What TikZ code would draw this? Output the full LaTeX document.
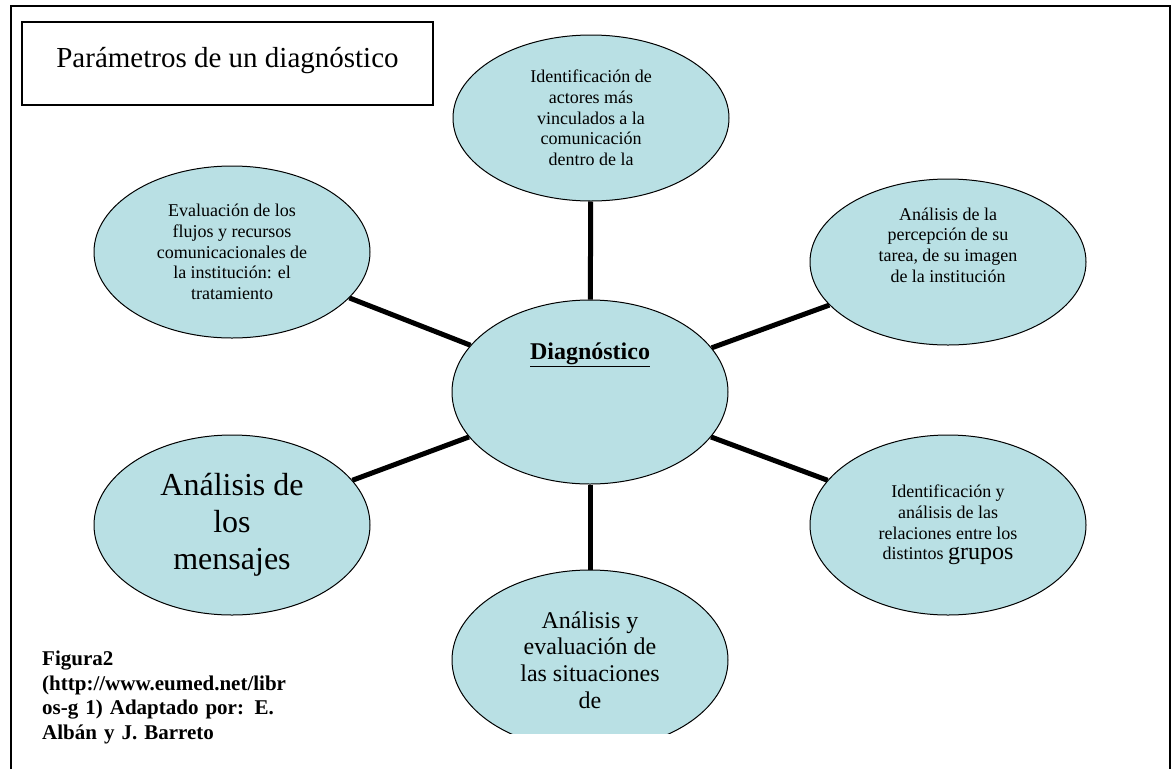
\documentclass[tikz,border=0pt]{standalone}
\usepackage{fontspec}
\setmainfont{Liberation Serif}
\usetikzlibrary{positioning,shapes.geometric,backgrounds}
\definecolor{bubblebg}{HTML}{B9E0E4}

\begin{document}
\begin{tikzpicture}[x=1pt,y=-1pt,
    bubble/.style={ellipse,draw=black,line width=1pt,fill=bubblebg,inner sep=0pt,
      minimum width=276pt,minimum height=172pt,align=center,
      font=\fontsize{18}{20.7}\selectfont},
    spoke/.style={line width=5pt}]
  \useasboundingbox (0,0) rectangle (1176,769);
  \clip (0,0) rectangle (1176,769);
  % page frame, open at the bottom
  \draw[line width=1.5pt] (11,769) |- (1170,6) -- (1170,769);
  \node[draw,line width=1.2pt,minimum width=411pt,minimum height=83pt,inner sep=0pt,
        text height=20pt,text depth=13pt,font=\fontsize{29}{33}\selectfont] (title)
    at (227.5,63.5) {Parámetros de un diagnóstico};

  \node[bubble,minimum height=184pt] (diag) at (590,392) {};
  \node[anchor=base,font=\fontsize{24}{28}\bfseries\selectfont] (diagtxt)
    at ([yshift=33pt]diag.center) {\underline{Diagnóstico}};

  \node[bubble,minimum height=166pt] (actores) at (591,118)
    {Identificación de\\actores más\\vinculados a la\\comunicación\\dentro de la};
  \node[bubble] (flujos) at (232,252)
    {Evaluación de los\\flujos y recursos\\comunicacionales de\\la institución: el\\tratamiento};
  \node[bubble,minimum height=166pt] (percepcion) at (948,262) {};
  \node[align=center,font=\fontsize{18}{20.7}\selectfont] (percepciontxt)
    at ([yshift=17pt]percepcion.center)
    {Análisis de la\\percepción de su\\tarea, de su imagen\\de la institución};
  \node[bubble,minimum height=180pt,font=\fontsize{32}{36.8}\selectfont] (mensajes)
    at (232,525) {Análisis de\\los\\mensajes};
  \node[bubble,minimum height=180pt] (grupos) at (948,525)
    {Identificación y\\análisis de las\\relaciones entre los\\distintos {\fontsize{24}{25}\selectfont grupos}};
  % the bottom bubble runs off the drawing area
  \begin{scope}
    \clip (0,0) rectangle (1176,733);
    \node[bubble,minimum height=180pt,font=\fontsize{24}{26.7}\selectfont] (situaciones)
      at (590,660) {Análisis y\\evaluación de\\las situaciones\\de};
  \end{scope}

  \begin{scope}[on background layer]
    \foreach \n in {actores,flujos,percepcion,mensajes,grupos,situaciones}
      \draw[spoke] (diag) -- (\n);
  \end{scope}

  \node[anchor=north west,inner sep=0pt,text width=253pt,align=left,
        font=\fontsize{21}{24.5}\bfseries\selectfont] (fuente) at (42,651)
    {Figura2\\(http://www.eumed.net/libr\\\makebox[253pt][s]{os-g 1) Adaptado por: E.}\\Albán y J. Barreto};
\end{tikzpicture}
\end{document}
